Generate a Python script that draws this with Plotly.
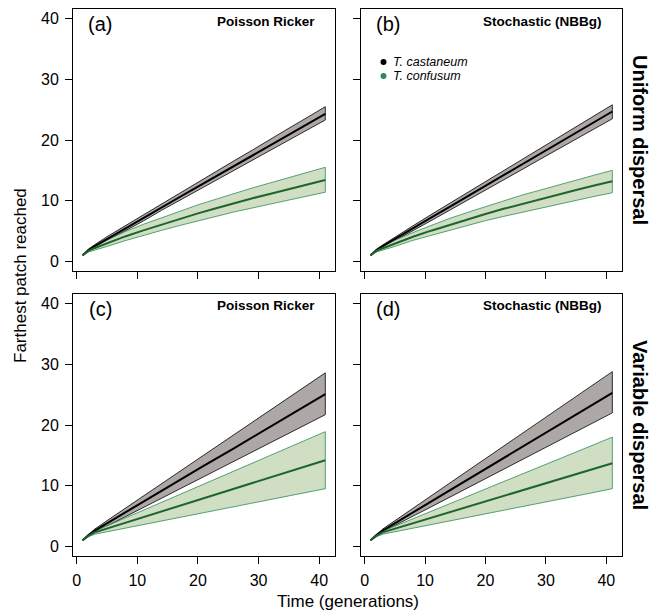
import plotly.graph_objects as go

# ---------------- data ----------------
T_uni = [1, 2, 3, 5, 8, 11, 14, 17, 20, 23, 26, 29, 32, 35, 38, 41]
T_var = [1, 2, 3, 6, 11, 16, 21, 26, 31, 36, 41]

# (a) Uniform dispersal, Poisson Ricker
a_cas_mean = [1.0, 1.9, 2.5, 3.7, 5.4, 7.1, 8.9, 10.6, 12.3, 14.0, 15.7, 17.4, 19.2, 20.9, 22.6, 24.3]
a_cas_hi   = [1.0, 2.05, 2.75, 4.05, 5.85, 7.65, 9.5, 11.25, 13.05, 14.8, 16.6, 18.35, 20.2, 21.95, 23.7, 25.5]
a_cas_lo   = [1.0, 1.75, 2.3, 3.4, 5.0, 6.65, 8.4, 10.0, 11.65, 13.3, 15.0, 16.6, 18.35, 20.0, 21.65, 23.3]
a_con_mean = [1.0, 1.75, 2.2, 3.0, 4.1, 5.1, 6.05, 7.0, 7.9, 8.75, 9.6, 10.4, 11.15, 11.9, 12.65, 13.4]
a_con_hi   = [1.0, 1.9, 2.5, 3.5, 4.9, 6.1, 7.2, 8.3, 9.3, 10.25, 11.2, 12.1, 12.95, 13.8, 14.65, 15.5]
a_con_lo   = [1.0, 1.55, 1.85, 2.45, 3.4, 4.3, 5.1, 5.9, 6.7, 7.4, 8.15, 8.85, 9.45, 10.15, 10.75, 11.4]

# (b) Uniform dispersal, Stochastic (NBBg)
b_cas_mean = [1.0, 1.9, 2.5, 3.7, 5.45, 7.2, 8.95, 10.7, 12.45, 14.2, 15.95, 17.7, 19.45, 21.2, 22.95, 24.7]
b_cas_hi   = [1.0, 2.0, 2.7, 4.0, 5.85, 7.7, 9.5, 11.3, 13.15, 14.95, 16.75, 18.55, 20.35, 22.15, 23.95, 25.8]
b_cas_lo   = [1.0, 1.75, 2.3, 3.4, 5.05, 6.7, 8.35, 10.05, 11.75, 13.4, 15.1, 16.8, 18.5, 20.2, 21.85, 23.5]
b_con_mean = [1.0, 1.75, 2.15, 2.95, 4.05, 5.05, 6.0, 6.9, 7.8, 8.65, 9.45, 10.25, 11.0, 11.75, 12.5, 13.2]
b_con_hi   = [1.0, 1.9, 2.45, 3.45, 4.75, 5.95, 7.05, 8.05, 9.05, 9.95, 10.9, 11.75, 12.6, 13.4, 14.2, 15.0]
b_con_lo   = [1.0, 1.55, 1.85, 2.45, 3.45, 4.3, 5.1, 5.9, 6.7, 7.4, 8.1, 8.8, 9.45, 10.05, 10.7, 11.3]

# (c) Variable dispersal, Poisson Ricker
c_cas_mean = [1.0, 1.9, 2.6, 4.4, 7.3, 10.3, 13.3, 16.2, 19.2, 22.1, 25.1]
c_cas_hi   = [1.0, 2.0, 2.85, 4.9, 8.3, 11.7, 15.05, 18.45, 21.85, 25.2, 28.6]
c_cas_lo   = [1.0, 1.8, 2.4, 3.9, 6.45, 9.0, 11.55, 14.1, 16.6, 19.15, 21.7]
c_con_mean = [1.0, 1.75, 2.3, 3.25, 4.8, 6.4, 7.95, 9.5, 11.05, 12.65, 14.2]
c_con_hi   = [1.0, 1.85, 2.5, 3.8, 5.95, 8.1, 10.3, 12.45, 14.6, 16.75, 18.9]
c_con_lo   = [1.0, 1.6, 2.0, 2.6, 3.6, 4.55, 5.55, 6.5, 7.5, 8.5, 9.5]

# (d) Variable dispersal, Stochastic (NBBg)
d_cas_mean = [1.0, 1.9, 2.6, 4.4, 7.4, 10.4, 13.35, 16.35, 19.3, 22.3, 25.3]
d_cas_hi   = [1.0, 2.0, 2.85, 4.9, 8.3, 11.75, 15.15, 18.6, 22.0, 25.4, 28.8]
d_cas_lo   = [1.0, 1.8, 2.4, 3.95, 6.5, 9.1, 11.7, 14.25, 16.85, 19.4, 22.0]
d_con_mean = [1.0, 1.75, 2.3, 3.2, 4.7, 6.2, 7.7, 9.2, 10.7, 12.2, 13.7]
d_con_hi   = [1.0, 1.85, 2.5, 3.7, 5.75, 7.8, 9.85, 11.85, 13.9, 15.95, 18.0]
d_con_lo   = [1.0, 1.6, 2.0, 2.6, 3.6, 4.55, 5.55, 6.5, 7.5, 8.5, 9.5]

panel_letters = ["(a)", "(b)", "(c)", "(d)"]
panel_models = ["Poisson Ricker", "Stochastic (NBBg)", "Poisson Ricker", "Stochastic (NBBg)"]
row_labels = ["Uniform dispersal", "Variable dispersal"]
species = ["T. castaneum", "T. confusum"]
x_ticks = [0, 10, 20, 30, 40]
y_ticks = [0, 10, 20, 30, 40]

# ---------------- styling ----------------
W, H = 652, 613
FONT = "Liberation Sans, Arial, Helvetica, sans-serif"
GRAY_FILL = "rgb(173,168,165)"
GREEN_FILL = "rgb(208,222,196)"
GREEN_EDGE = "rgb(46,139,87)"
GREEN_MEAN = "rgb(30,100,45)"

def px(x):
    return x / W

def py(y):
    return 1 - y / H

# panel boxes in window pixels: (left, right, top, bottom)
boxes = [(73, 335, 9, 271), (361, 622, 9, 271), (73, 335, 294, 556), (361, 622, 294, 556)]

panels = [
    (T_uni, a_cas_mean, a_cas_hi, a_cas_lo, a_con_mean, a_con_hi, a_con_lo),
    (T_uni, b_cas_mean, b_cas_hi, b_cas_lo, b_con_mean, b_con_hi, b_con_lo),
    (T_var, c_cas_mean, c_cas_hi, c_cas_lo, c_con_mean, c_con_hi, c_con_lo),
    (T_var, d_cas_mean, d_cas_hi, d_cas_lo, d_con_mean, d_con_hi, d_con_lo),
]

fig = go.Figure()

for i, (T, cm, ch, cl, gm, gh, gl) in enumerate(panels):
    xa = "x" if i == 0 else f"x{i+1}"
    ya = "y" if i == 0 else f"y{i+1}"
    fig.add_trace(go.Scatter(x=T + T[::-1], y=ch + cl[::-1], xaxis=xa, yaxis=ya,
                             mode="lines", fill="toself", fillcolor=GRAY_FILL,
                             line=dict(color="black", width=0.8), hoverinfo="skip",
                             showlegend=False))
    fig.add_trace(go.Scatter(x=T + T[::-1], y=gh + gl[::-1], xaxis=xa, yaxis=ya,
                             mode="lines", fill="toself", fillcolor=GREEN_FILL,
                             line=dict(color=GREEN_EDGE, width=0.8), hoverinfo="skip",
                             showlegend=False))
    fig.add_trace(go.Scatter(x=T, y=cm, xaxis=xa, yaxis=ya, mode="lines",
                             line=dict(color="black", width=2), showlegend=False,
                             name=species[0]))
    fig.add_trace(go.Scatter(x=T, y=gm, xaxis=xa, yaxis=ya, mode="lines",
                             line=dict(color=GREEN_MEAN, width=2), showlegend=False,
                             name=species[1]))

layout = dict(
    width=W, height=H, margin=dict(l=0, r=0, t=0, b=0),
    paper_bgcolor="white", plot_bgcolor="white",
    font=dict(family=FONT, color="black", size=16),
    showlegend=False,
)

for i, (l, r, t, b) in enumerate(boxes):
    sx = "" if i == 0 else str(i + 1)
    ax_common = dict(showgrid=False, zeroline=False, showline=True, mirror=True,
                     linecolor="black", linewidth=1, ticks="outside", ticklen=7,
                     tickwidth=1, tickcolor="black",
                     tickfont=dict(family=FONT, size=16, color="black"))
    layout["xaxis" + sx] = dict(ax_common, domain=[px(l), px(r)], range=[-0.6, 42.6],
                                tickvals=x_ticks, showticklabels=(i >= 2),
                                anchor="y" + sx, ticklabelstandoff=3)
    layout["yaxis" + sx] = dict(ax_common, domain=[py(b), py(t)], range=[-1.6, 41.6],
                                tickvals=y_ticks, showticklabels=(i % 2 == 0),
                                anchor="x" + sx, ticklabelstandoff=3)

fig.update_layout(**layout)

ann = []
for i, (l, r, t, b) in enumerate(boxes):
    ann.append(dict(text=panel_letters[i], x=px(l + 27), y=py(t + 15), xref="paper", yref="paper",
                    xanchor="center", yanchor="middle", showarrow=False,
                    font=dict(family=FONT, size=20, color="black")))
    ann.append(dict(text="<b>" + panel_models[i] + "</b>", x=px(r - 18), y=py(t + 12),
                    xref="paper", yref="paper", xanchor="right", yanchor="middle",
                    showarrow=False, font=dict(family=FONT, size=13.5, color="black")))

for j, lab in enumerate(row_labels):
    t, b = boxes[2 * j][2], boxes[2 * j][3]
    ann.append(dict(text="<b>" + lab + "</b>", x=px(640), y=py((t + b) / 2), xref="paper",
                    yref="paper", xanchor="center", yanchor="middle", textangle=90,
                    showarrow=False, font=dict(family=FONT, size=20, color="black")))

ann.append(dict(text="Farthest patch reached", x=px(20), y=py(276), xref="paper", yref="paper",
                xanchor="center", yanchor="middle", textangle=-90, showarrow=False,
                font=dict(family=FONT, size=17, color="black")))
ann.append(dict(text="Time (generations)", x=px(348), y=py(601), xref="paper", yref="paper",
                xanchor="center", yanchor="middle", showarrow=False,
                font=dict(family=FONT, size=17, color="black")))

# legend in panel (b)
legend_cols = ["black", GREEN_EDGE]
legend_y = [62, 76]
shapes = []
for k in range(2):
    ann.append(dict(text="<i>" + species[k] + "</i>", x=px(391), y=py(legend_y[k]),
                    xref="paper", yref="paper", xanchor="left", yanchor="middle",
                    showarrow=False, font=dict(family=FONT, size=12.5, color="black")))
    shapes.append(dict(type="circle", xref="paper", yref="paper",
                       x0=px(380.5), x1=px(386.5), y0=py(legend_y[k] + 3), y1=py(legend_y[k] - 3),
                       fillcolor=legend_cols[k], line=dict(color=legend_cols[k], width=0)))

fig.update_layout(annotations=ann, shapes=shapes)
fig.write_html("out.html",
               config={"displayModeBar": False, "staticPlot": True},
               post_script="document.body.style.margin='0px';"
                           "document.body.style.overflow='hidden';"
                           "document.documentElement.style.overflow='hidden';")
